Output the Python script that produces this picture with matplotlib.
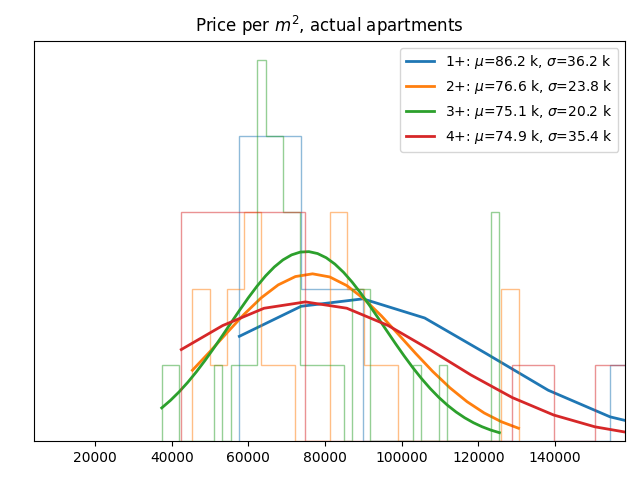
import numpy as np
import matplotlib
matplotlib.use("Agg")
import matplotlib.pyplot as plt

# price per m2 samples for each room-count group
groups = ["1+", "2+", "3+", "4+"]

prices_1 = [57650, 62000, 66500, 71000, 78000, 86000, 170500]
prices_2 = [45400, 47800, 52000, 55500, 57500, 59800, 61000, 62300, 65500,
            70000, 82200, 83500, 84700, 86800, 88500, 92400, 96900,
            128000, 130500]
prices_3 = [37400, 40800, 52100, 56600, 58900, 61100,
            62600, 63000, 63400, 63800, 64200,
            64900, 65400, 65900, 66400,
            67100, 67600, 68100, 68600,
            69500, 70200, 70900,
            71800, 72400, 73000,
            74700, 76900, 79200, 81500, 83700,
            87800, 88700, 90000, 91000,
            104000, 110800,
            123900, 124700, 125500]
prices_4 = [42500, 47000, 51000, 56000, 59500, 62500, 66000, 69500, 73000,
            134000, 161250]

mus = [86.2, 76.6, 75.1, 74.9]      # k
sigmas = [36.2, 23.8, 20.2, 35.4]   # k
curve_scale = [170200, 130900, 125900, 162000]

colors = ["C0", "C1", "C2", "C3"]

fig, ax = plt.subplots(figsize=(6.4, 4.8), dpi=100)

for prices, g, mu, sigma, sc, c in zip([prices_1, prices_2, prices_3, prices_4],
                                       groups, mus, sigmas, curve_scale, colors):
    n, bins, _ = ax.hist(prices, bins=len(prices), histtype="step",
                         alpha=0.5, color=c)
    m, s = mu * 1000, sigma * 1000
    pdf = np.exp(-0.5 * ((bins - m) / s) ** 2) / (s * np.sqrt(2 * np.pi))
    ax.plot(bins, pdf * sc, color=c, lw=2,
            label=f"{g}: $\\mu$={mu} k, $\\sigma$={sigma} k")

ax.set_xlim(4050, 158350)
ax.set_yticks([])
ax.set_title("Price per $m^2$, actual apartments")
ax.legend(loc="upper right")

fig.subplots_adjust(left=0.053, right=0.977, bottom=0.081, top=0.915)
fig.savefig("out.png", dpi=100)
